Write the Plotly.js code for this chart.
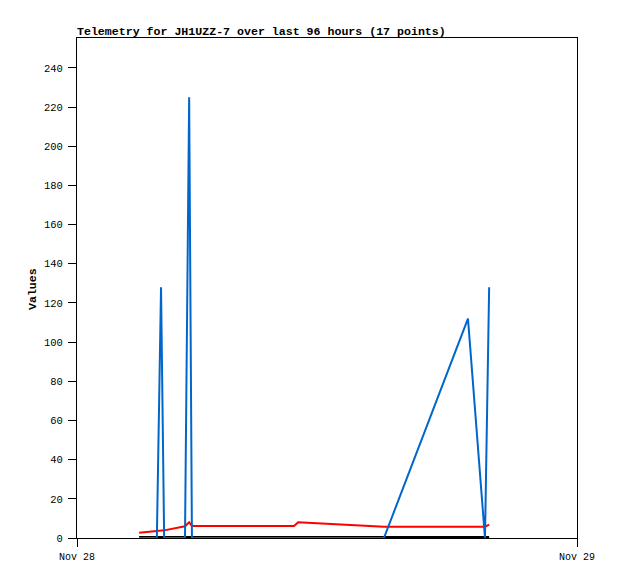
<!DOCTYPE html>
<html>
<head>
<meta charset="utf-8">
<script src="https://cdn.plot.ly/plotly-3.0.1.min.js"></script>
<style>
  html, body { margin: 0; padding: 0; background: #ffffff; }
  #chart { width: 618px; height: 579px; }
</style>
</head>
<body>
<div id="chart"></div>
<script>
// Telemetry channels, times on Nov 28
var blueTimes = ["2023-11-28 02:59", "2023-11-28 03:50", "2023-11-28 04:02", "2023-11-28 04:11",
                 "2023-11-28 05:11", "2023-11-28 05:23", "2023-11-28 05:31", "2023-11-28 10:25",
                 "2023-11-28 10:37", "2023-11-28 14:44", "2023-11-28 18:46", "2023-11-28 19:35",
                 "2023-11-28 19:47"];
var blueValues = [0, 0, 128, 0, 0, 225, 0, 0, 0, 0, 112, 0, 128];

var redTimes = ["2023-11-28 02:59", "2023-11-28 03:50", "2023-11-28 04:11", "2023-11-28 05:11",
                "2023-11-28 05:23", "2023-11-28 05:31", "2023-11-28 10:25", "2023-11-28 10:37",
                "2023-11-28 14:44", "2023-11-28 18:46", "2023-11-28 19:35", "2023-11-28 19:47"];
var redValues = [2.7, 3.6, 3.9, 6.0, 8.0, 6.1, 6.1, 8.0, 5.8, 5.8, 5.8, 6.8];

var blackTimes = ["2023-11-28 02:59", "2023-11-28 19:47"];
var blackValues = [0, 0];

var xTickVals = ["2023-11-28 00:00", "2023-11-29 00:00"];
var xTickText = ["Nov 28", "Nov 29"];
var yTickVals = [0, 20, 40, 60, 80, 100, 120, 140, 160, 180, 200, 220, 240];

var titleText = "Telemetry for JH1UZZ-7 over last 96 hours (17 points)";
var yTitleText = "Values";

var monoFont = "Liberation Mono, DejaVu Sans Mono, monospace";

var traces = [
  { x: redTimes, y: redValues, type: "scatter", mode: "lines",
    line: { color: "#ff0000", width: 2 }, hoverinfo: "skip" },
  { x: blackTimes, y: blackValues, type: "scatter", mode: "lines",
    line: { color: "#000000", width: 4 }, hoverinfo: "skip" },
  { x: blueTimes, y: blueValues, type: "scatter", mode: "lines",
    line: { color: "#0066cc", width: 2 }, hoverinfo: "skip" }
];

var layout = {
  width: 618, height: 579,
  margin: { l: 77, r: 41, t: 38, b: 41, pad: 0 },
  paper_bgcolor: "#ffffff", plot_bgcolor: "#ffffff",
  showlegend: false,
  title: {
    text: "<b>" + titleText + "</b>",
    font: { family: monoFont, size: 11.6, color: "#000000" },
    xref: "paper", x: 0, xanchor: "left",
    yref: "container", y: 1 - 31 / 579, yanchor: "middle"
  },
  xaxis: {
    type: "date",
    range: ["2023-11-28 00:00", "2023-11-29 00:00"],
    tickmode: "array", tickvals: xTickVals, ticktext: xTickText,
    ticks: "outside", ticklen: 8, tickwidth: 1, tickcolor: "#000000",
    ticklabelstandoff: 1,
    showgrid: false, zeroline: false,
    showline: true, linecolor: "#000000", linewidth: 1, mirror: true,
    tickfont: { family: monoFont, size: 10, color: "#000000" },
    fixedrange: true
  },
  yaxis: {
    range: [0, 255.3],
    tickmode: "array", tickvals: yTickVals,
    ticks: "outside", ticklen: 8, tickwidth: 1, tickcolor: "#000000",
    ticklabelstandoff: 3,
    showgrid: false, zeroline: false,
    showline: true, linecolor: "#000000", linewidth: 1, mirror: true,
    tickfont: { family: monoFont, size: 10.5, color: "#000000" },
    fixedrange: true
  },
  annotations: [
    { text: "<b>" + yTitleText + "</b>", xref: "paper", yref: "paper",
      x: -0.09, y: 0.498, xanchor: "center", yanchor: "middle",
      textangle: -90, showarrow: false,
      font: { family: monoFont, size: 11.6, color: "#000000" } }
  ]
};

Plotly.newPlot("chart", traces, layout, { staticPlot: true, displayModeBar: false });
</script>
</body>
</html>
